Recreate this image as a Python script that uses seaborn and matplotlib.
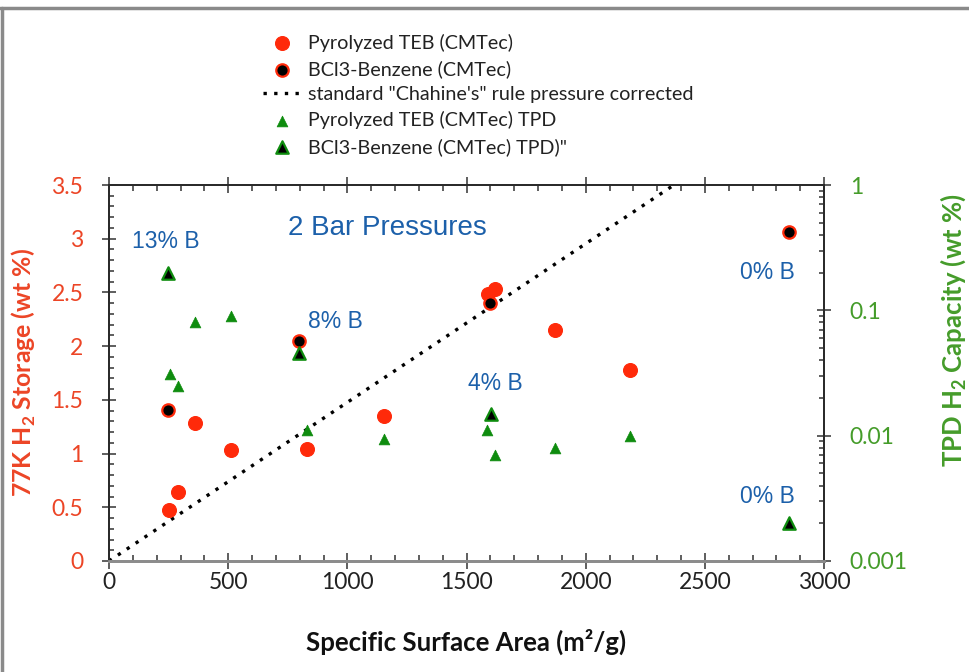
import matplotlib
matplotlib.use("Agg")
import matplotlib.pyplot as plt
import seaborn as sns
from matplotlib.lines import Line2D
from matplotlib.ticker import MultipleLocator, FuncFormatter, LogLocator, NullFormatter

# dane
pyro_area = [253, 288, 361, 511, 830, 1154, 1592, 1620, 1871, 2186]
pyro_h2 = [0.475, 0.64, 1.28, 1.03, 1.04, 1.35, 2.485, 2.53, 2.15, 1.775]
bcl3_area = [246, 797, 1599, 2853]
bcl3_h2 = [1.405, 2.05, 2.405, 3.06]
pyro_tpd_area = [256, 288, 361, 511, 830, 1154, 1587, 1620, 1871, 2186]
pyro_tpd = [0.031, 0.025, 0.080, 0.090, 0.011, 0.0094, 0.011, 0.0070, 0.0080, 0.0100]
bcl3_tpd_area = [246, 797, 1602, 2853]
bcl3_tpd = [0.197, 0.0454, 0.0148, 0.0020]
chahine_area = [0, 2370]
chahine_h2 = [0, 3.5]

tpd_ticks = [0.001, 0.01, 0.1, 1]
tpd_ticklabels = ['0.001', '0.01', '0.1', '1']

sns.set_style('white')
plt.rcParams['font.family'] = ['Lato', 'DejaVu Sans']
plt.rcParams['mathtext.fontset'] = 'custom'
plt.rcParams['mathtext.rm'] = 'Lato'
plt.rcParams['mathtext.bf'] = 'Lato:bold'

red = '#ff2a0a'
red_txt = '#ec4526'
green = '#0e8c0e'
green_txt = '#459c2a'
blue = '#1c60aa'

fig = plt.figure(figsize=(9.69, 6.72), dpi=100)
ax = fig.add_axes([0.1125, 0.1652, 0.7379, 0.5595])
ax2 = ax.twinx()

sns.lineplot(x=chahine_area, y=chahine_h2, ax=ax, color='black', lw=2.4,
             dashes=False, label='standard "Chahine\'s" rule pressure corrected')
ax.lines[-1].set_dashes([1, 2.2])
sns.scatterplot(x=pyro_area, y=pyro_h2, ax=ax, color=red, s=100, edgecolor=red,
                linewidth=0.8, label='Pyrolyzed TEB (CMTec)', zorder=3)
sns.scatterplot(x=bcl3_area, y=bcl3_h2, ax=ax, color='black', s=80, edgecolor=red,
                linewidth=1.6, label='BCl3-Benzene (CMTec)', zorder=4)

sns.scatterplot(x=pyro_tpd_area, y=pyro_tpd, ax=ax2, color=green, marker='^', s=60,
                edgecolor=green, linewidth=0.5, label='Pyrolyzed TEB (CMTec) TPD')
sns.scatterplot(x=bcl3_tpd_area, y=bcl3_tpd, ax=ax2, color='black', marker='^', s=80,
                edgecolor=green, linewidth=1.6, label='BCl3-Benzene (CMTec) TPD)"')

ax.set_xlim(0, 3000)
ax.set_ylim(0, 3.5)
ax2.set_yscale('log')
ax2.set_ylim(0.001, 1)

# osie i podziałki
ax.xaxis.set_major_locator(MultipleLocator(500))
ax.xaxis.set_minor_locator(MultipleLocator(100))
ax.yaxis.set_major_locator(MultipleLocator(0.5))
ax.yaxis.set_minor_locator(MultipleLocator(0.1))
ax.yaxis.set_major_formatter(FuncFormatter(lambda v, p: f'{v:g}'))
ax2.set_yticks(tpd_ticks)
ax2.set_yticklabels(tpd_ticklabels)
ax2.yaxis.set_minor_locator(LogLocator(base=10, subs=range(2, 10)))
ax2.yaxis.set_minor_formatter(NullFormatter())

ax.tick_params(axis='x', which='major', direction='inout', length=11, width=1.1,
               color='#333333', labelsize=16.5, pad=2.5, top=True, bottom=True,
               labelcolor='#222222')
ax.tick_params(axis='x', which='minor', direction='in', length=4, width=1.1,
               color='#333333', top=True, bottom=True)
ax.tick_params(axis='y', which='major', direction='inout', length=10, width=1.1,
               color='#333333', labelsize=16.5, pad=13.5, labelcolor=red_txt,
               left=True, right=False)
ax.tick_params(axis='y', which='minor', direction='in', length=3.6, width=1.1,
               color='#333333', left=True, right=False)
ax2.tick_params(axis='y', which='major', direction='inout', length=10, width=1.1,
                color='#333333', labelsize=16.5, pad=13.5, labelcolor=green_txt)
ax2.tick_params(axis='y', which='minor', direction='in', length=3.6, width=1.1,
                color='#333333')

for a in (ax, ax2):
    for side in ['left', 'right', 'top']:
        a.spines[side].set_color('#2a2a2a')
        a.spines[side].set_linewidth(1.3)
    a.spines['bottom'].set_color('#8c8c8c')
    a.spines['bottom'].set_linewidth(2)

ax.set_xlabel('Specific Surface Area (m²/g)', fontsize=18.5, fontweight='bold',
              color='#111111')
ax.xaxis.set_label_coords(0.5, -0.18)
ax.set_ylabel(r'77K H$_\mathbf{2}$ Storage (wt %)', fontsize=17.8, fontweight='bold',
              color=red_txt)
ax.yaxis.set_label_coords(-0.099, 0.5)
ax2.set_ylabel(r'TPD H$_\mathbf{2}$ Capacity (wt %)', fontsize=18.5, fontweight='bold',
               color=green_txt)
ax2.yaxis.set_label_coords(1.159, 0.614)

# opisy
tf = 'Liberation Sans'
ax.text(1166, 3.10, '2 Bar Pressures', color=blue, fontsize=20, family=tf,
        ha='center', va='center')
ax.text(239, 2.97, '13% B', color=blue, fontsize=16.5, family=tf, ha='center', va='center')
ax.text(948, 2.225, '8% B', color=blue, fontsize=16.5, family=tf, ha='center', va='center')
ax.text(1620, 1.65, '4% B', color=blue, fontsize=16.5, family=tf, ha='center', va='center')
ax.text(2761, 2.69, '0% B', color=blue, fontsize=16.5, family=tf, ha='center', va='center')
ax.text(2761, 0.596, '0% B', color=blue, fontsize=16.5, family=tf, ha='center', va='center')

# legenda nad wykresem
h1, l1 = ax.get_legend_handles_labels()
h2, l2 = ax2.get_legend_handles_labels()
hd = dict(zip(l1 + l2, h1 + h2))
order = ['Pyrolyzed TEB (CMTec)', 'BCl3-Benzene (CMTec)',
         'standard "Chahine\'s" rule pressure corrected',
         'Pyrolyzed TEB (CMTec) TPD', 'BCl3-Benzene (CMTec) TPD)"']
ax.get_legend().remove()
ax2.get_legend().remove()
fig.legend([hd[k] for k in order], order, loc='upper left',
           bbox_to_anchor=(0.2714, 0.95), frameon=False, fontsize=14.2,
           handlelength=1.9, handletextpad=0.4, labelspacing=0.42, borderpad=0,
           borderaxespad=0, labelcolor='#222222')

# szara ramka
fig.add_artist(Line2D([0, 1], [1 - 8 / 672] * 2, transform=fig.transFigure,
                      color='#8a8a8a', lw=2.5))
fig.add_artist(Line2D([1.5 / 969] * 2, [0, 1 - 8 / 672], transform=fig.transFigure,
                      color='#8a8a8a', lw=2.5))

fig.savefig('out.png', dpi=100)
